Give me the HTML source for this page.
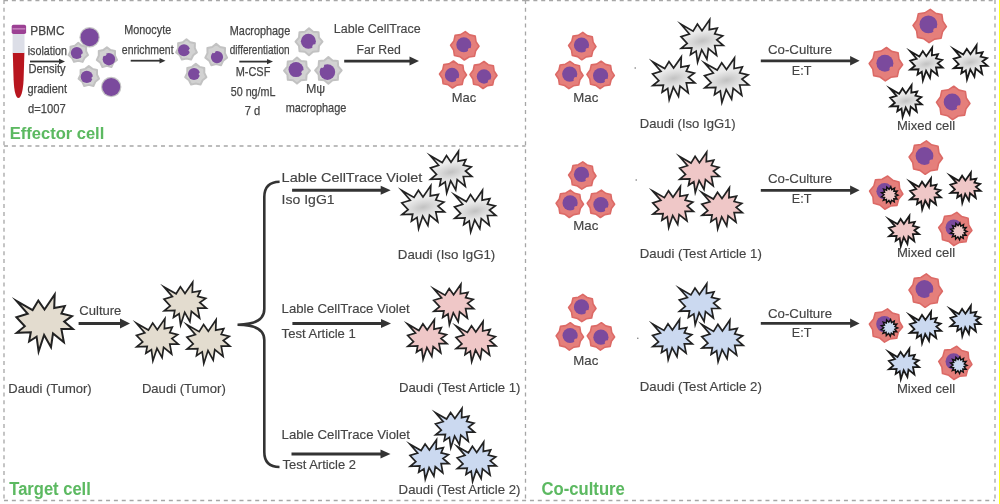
<!DOCTYPE html><html><head><meta charset="utf-8"><style>html,body{margin:0;padding:0;background:#fff;}svg{display:block;filter:blur(0.3px);}</style></head><body><svg width="1000" height="504" viewBox="0 0 1000 504" style="font-family:&quot;Liberation Sans&quot;,sans-serif" fill="#444">
<defs>
<radialGradient id="gg" cx="0.5" cy="0.5" r="0.5" gradientTransform="translate(0.5 0.5) rotate(-12) scale(1 0.45) translate(-0.5 -0.5)"><stop offset="0" stop-color="#c2c2c2"/><stop offset="0.5" stop-color="#d8d8d8"/><stop offset="1" stop-color="#ebebeb"/></radialGradient>
</defs>
<rect width="1000" height="504" fill="#fff"/>
<line x1="4" y1="0.5" x2="525.5" y2="0.5" stroke="#a6a6a6" stroke-width="1.3" stroke-dasharray="4 3.85"/>
<line x1="525.5" y1="0.5" x2="995" y2="0.5" stroke="#a6a6a6" stroke-width="1.3" stroke-dasharray="4 3.85"/>
<line x1="4" y1="0" x2="4" y2="500" stroke="#a6a6a6" stroke-width="1.3" stroke-dasharray="4 3.85"/>
<line x1="525.5" y1="0" x2="525.5" y2="500" stroke="#a6a6a6" stroke-width="1.3" stroke-dasharray="4 3.85"/>
<line x1="995" y1="0" x2="995" y2="500" stroke="#a6a6a6" stroke-width="1.3" stroke-dasharray="4 3.85"/>
<line x1="4" y1="146" x2="525.5" y2="146" stroke="#a6a6a6" stroke-width="1.3" stroke-dasharray="4 3.85"/>
<line x1="4" y1="500.5" x2="995" y2="500.5" stroke="#a6a6a6" stroke-width="1.3" stroke-dasharray="4 3.85"/>
<rect x="999" y="0" width="1" height="504" fill="#ffff20"/>
<path d="M12.8,52.8 L24.4,52.8 L23.6,80 Q22.5,97.8 18.4,98 Q14.5,97.8 13.6,80 Z" fill="#b8161f"/>
<rect x="12.6" y="33.8" width="11.9" height="19.2" fill="#dcdee7"/>
<rect x="11.7" y="24.8" width="14.4" height="9.2" rx="1.8" fill="#9c4194"/>
<rect x="12.5" y="28.2" width="12.8" height="1.3" fill="#c98ac2"/>
<text x="30.3" y="35.0" font-size="12.8" textLength="34.2" lengthAdjust="spacingAndGlyphs" stroke="#444" stroke-width="0.25">PBMC</text>
<text x="27.7" y="54.5" font-size="12.8" textLength="39.3" lengthAdjust="spacingAndGlyphs" stroke="#444" stroke-width="0.25">isolation</text>
<text x="28.6" y="73.3" font-size="12.8" textLength="37.0" lengthAdjust="spacingAndGlyphs" stroke="#444" stroke-width="0.25">Density</text>
<text x="27.4" y="93.3" font-size="12.8" textLength="39.6" lengthAdjust="spacingAndGlyphs" stroke="#444" stroke-width="0.25">gradient</text>
<text x="28.0" y="112.5" font-size="12.8" textLength="37.7" lengthAdjust="spacingAndGlyphs" stroke="#444" stroke-width="0.25">d=1007</text>
<line x1="30.0" y1="61.5" x2="60.0" y2="61.5" stroke="#333" stroke-width="1.8"/>
<polygon points="65.0,61.5 59.0,58.8 59.0,64.2" fill="#333"/>
<circle cx="89.6" cy="37.2" r="10.2" fill="#c4c4c4"/>
<circle cx="89.6" cy="37.2" r="9.0" fill="#7b4a9d"/>
<polygon points="78.3,42.9 81.8,45.7 86.1,46.7 86.1,51.1 88.0,55.1 84.6,57.9 82.6,61.9 78.3,60.9 74.0,61.9 72.0,57.9 68.6,55.1 70.5,51.1 70.5,46.7 74.8,45.7" fill="#d2d2d2" stroke="#c2c2c2" stroke-width="2" stroke-linejoin="round"/>
<circle cx="76.8" cy="53.0" r="6.0" fill="#7b4a9d"/>
<circle cx="82.7" cy="55.2" r="1.6" fill="#d2d2d2"/>
<polygon points="106.9,47.2 110.5,50.1 115.0,51.1 115.0,55.7 117.0,59.9 113.4,62.8 111.4,67.0 106.9,65.9 102.4,67.0 100.4,62.8 96.8,59.9 98.8,55.7 98.8,51.1 103.3,50.1" fill="#d2d2d2" stroke="#c2c2c2" stroke-width="2" stroke-linejoin="round"/>
<circle cx="108.9" cy="59.2" r="6.2" fill="#7b4a9d"/>
<circle cx="104.7" cy="54.2" r="1.7" fill="#d2d2d2"/>
<polygon points="88.8,66.0 92.4,68.9 97.0,70.0 97.0,74.6 99.0,78.8 95.4,81.7 93.4,86.0 88.8,84.9 84.2,86.0 82.2,81.7 78.6,78.8 80.6,74.6 80.6,70.0 85.2,68.9" fill="#d2d2d2" stroke="#c2c2c2" stroke-width="2" stroke-linejoin="round"/>
<circle cx="86.8" cy="76.9" r="6.1" fill="#7b4a9d"/>
<circle cx="93.1" cy="78.0" r="1.6" fill="#d2d2d2"/>
<circle cx="111.2" cy="87.0" r="10.2" fill="#c4c4c4"/>
<circle cx="111.2" cy="87.0" r="9.0" fill="#7b4a9d"/>
<text x="147.7" y="34.2" font-size="12.8" text-anchor="middle" textLength="46.9" lengthAdjust="spacingAndGlyphs" stroke="#444" stroke-width="0.25">Monocyte</text>
<text x="147.7" y="54.0" font-size="12.8" text-anchor="middle" textLength="51.7" lengthAdjust="spacingAndGlyphs" stroke="#444" stroke-width="0.25">enrichment</text>
<line x1="130.7" y1="60.7" x2="160.5" y2="60.7" stroke="#333" stroke-width="1.8"/>
<polygon points="165.5,60.7 159.5,58.0 159.5,63.5" fill="#333"/>
<polygon points="186.5,39.3 190.2,42.3 194.9,43.3 194.8,48.1 196.9,52.4 193.2,55.3 191.1,59.6 186.5,58.6 181.9,59.6 179.8,55.3 176.1,52.4 178.2,48.1 178.1,43.3 182.8,42.3" fill="#d2d2d2" stroke="#c2c2c2" stroke-width="2" stroke-linejoin="round"/>
<circle cx="184.0" cy="50.3" r="6.0" fill="#7b4a9d"/>
<circle cx="190.3" cy="50.3" r="1.6" fill="#d2d2d2"/>
<polygon points="216.2,43.9 220.1,47.0 225.0,48.1 224.9,53.1 227.1,57.6 223.2,60.7 221.1,65.2 216.2,64.1 211.3,65.2 209.2,60.7 205.3,57.6 207.5,53.1 207.4,48.1 212.3,47.0" fill="#d2d2d2" stroke="#c2c2c2" stroke-width="2" stroke-linejoin="round"/>
<circle cx="217.0" cy="57.1" r="6.1" fill="#7b4a9d"/>
<circle cx="213.8" cy="51.6" r="1.6" fill="#d2d2d2"/>
<polygon points="195.8,63.9 199.6,66.9 204.3,68.0 204.3,72.9 206.4,77.2 202.6,80.2 200.5,84.6 195.8,83.5 191.1,84.6 189.0,80.2 185.2,77.2 187.3,72.9 187.3,68.0 192.0,66.9" fill="#d2d2d2" stroke="#c2c2c2" stroke-width="2" stroke-linejoin="round"/>
<circle cx="194.0" cy="74.0" r="6.0" fill="#7b4a9d"/>
<circle cx="200.3" cy="74.0" r="1.6" fill="#d2d2d2"/>
<text x="260.0" y="35.0" font-size="12.8" text-anchor="middle" textLength="60.4" lengthAdjust="spacingAndGlyphs" stroke="#444" stroke-width="0.25">Macrophage</text>
<text x="259.7" y="53.8" font-size="12.8" text-anchor="middle" textLength="59.8" lengthAdjust="spacingAndGlyphs" stroke="#444" stroke-width="0.25">differentiation</text>
<line x1="239.3" y1="61.6" x2="268.0" y2="61.6" stroke="#333" stroke-width="1.8"/>
<polygon points="273.0,61.6 267.0,58.9 267.0,64.3" fill="#333"/>
<text x="253.0" y="75.9" font-size="12.8" text-anchor="middle" textLength="34.7" lengthAdjust="spacingAndGlyphs" stroke="#444" stroke-width="0.25">M-CSF</text>
<text x="253.1" y="95.8" font-size="12.8" text-anchor="middle" textLength="44.7" lengthAdjust="spacingAndGlyphs" stroke="#444" stroke-width="0.25">50 ng/mL</text>
<text x="252.5" y="115.4" font-size="12.8" text-anchor="middle" textLength="15.5" lengthAdjust="spacingAndGlyphs" stroke="#444" stroke-width="0.25">7 d</text>
<polygon points="309.0,28.2 313.1,31.7 318.5,32.2 319.0,37.6 322.5,41.7 319.0,45.8 318.5,51.2 313.1,51.7 309.0,55.2 304.9,51.7 299.5,51.2 299.0,45.8 295.5,41.7 299.0,37.6 299.5,32.2 304.9,31.7" fill="#d2d2d2" stroke="#c2c2c2" stroke-width="2" stroke-linejoin="round"/>
<circle cx="308.4" cy="41.2" r="7.5" fill="#7b4a9d"/>
<circle cx="314.4" cy="46.3" r="2.0" fill="#d2d2d2"/>
<polygon points="297.0,57.6 301.0,61.0 306.2,61.4 306.6,66.6 310.0,70.6 306.6,74.6 306.2,79.8 301.0,80.2 297.0,83.6 293.0,80.2 287.8,79.8 287.4,74.6 284.0,70.6 287.4,66.6 287.8,61.4 293.0,61.0" fill="#d2d2d2" stroke="#c2c2c2" stroke-width="2" stroke-linejoin="round"/>
<circle cx="296.0" cy="69.6" r="7.5" fill="#7b4a9d"/>
<circle cx="303.4" cy="72.3" r="2.0" fill="#d2d2d2"/>
<polygon points="328.4,57.1 332.5,60.6 337.8,61.0 338.2,66.3 341.7,70.4 338.2,74.5 337.8,79.8 332.5,80.2 328.4,83.7 324.3,80.2 319.0,79.8 318.6,74.5 315.1,70.4 318.6,66.3 319.0,61.0 324.3,60.6" fill="#d2d2d2" stroke="#c2c2c2" stroke-width="2" stroke-linejoin="round"/>
<circle cx="327.4" cy="72.1" r="7.8" fill="#7b4a9d"/>
<circle cx="322.1" cy="65.8" r="2.1" fill="#d2d2d2"/>
<text x="315.6" y="92.5" font-size="12.5" text-anchor="middle" stroke="#444" stroke-width="0.15">Mψ</text>
<text x="316.0" y="112.0" font-size="12.8" text-anchor="middle" textLength="60.7" lengthAdjust="spacingAndGlyphs" stroke="#444" stroke-width="0.25">macrophage</text>
<text x="377.3" y="33.2" font-size="12.5" text-anchor="middle" textLength="86.9" lengthAdjust="spacingAndGlyphs" stroke="#444" stroke-width="0.15">Lable CellTrace</text>
<text x="378.7" y="54.4" font-size="12.5" text-anchor="middle" textLength="44.3" lengthAdjust="spacingAndGlyphs" stroke="#444" stroke-width="0.15">Far Red</text>
<line x1="344.2" y1="61.1" x2="410.5" y2="61.1" stroke="#333" stroke-width="2.8"/>
<polygon points="419.0,61.1 409.5,56.6 409.5,65.6" fill="#333"/>
<polygon points="465.3,31.6 469.7,34.9 475.2,36.1 476.0,41.6 479.0,46.3 475.7,50.7 474.5,56.2 469.0,57.0 464.3,60.0 459.9,56.7 454.4,55.5 453.6,50.0 450.6,45.3 453.9,40.9 455.1,35.4 460.6,34.6" fill="#e57f7b" stroke="#dc6a66" stroke-width="1.6" stroke-linejoin="round"/>
<circle cx="463.8" cy="44.8" r="7.5" fill="#7b4a9d"/>
<circle cx="469.8" cy="49.9" r="2.0" fill="#e57f7b"/>
<polygon points="453.5,61.0 457.7,64.2 462.9,65.3 463.6,70.5 466.5,75.0 463.3,79.2 462.2,84.4 457.0,85.1 452.5,88.0 448.3,84.8 443.1,83.7 442.4,78.5 439.5,74.0 442.7,69.8 443.8,64.6 449.0,63.9" fill="#e57f7b" stroke="#dc6a66" stroke-width="1.6" stroke-linejoin="round"/>
<circle cx="452.0" cy="75.0" r="7.2" fill="#7b4a9d"/>
<circle cx="457.8" cy="79.9" r="1.9" fill="#e57f7b"/>
<polygon points="484.0,61.5 488.2,64.7 493.4,65.8 494.1,71.0 497.0,75.5 493.8,79.7 492.7,84.9 487.5,85.6 483.0,88.5 478.8,85.3 473.6,84.2 472.9,79.0 470.0,74.5 473.2,70.3 474.3,65.1 479.5,64.4" fill="#e57f7b" stroke="#dc6a66" stroke-width="1.6" stroke-linejoin="round"/>
<circle cx="484.0" cy="76.5" r="7.2" fill="#7b4a9d"/>
<circle cx="489.8" cy="81.4" r="1.9" fill="#e57f7b"/>
<text x="463.9" y="101.6" font-size="13" text-anchor="middle" textLength="24.5" lengthAdjust="spacingAndGlyphs" stroke="#444" stroke-width="0.15">Mac</text>
<text x="9.8" y="139.0" font-size="17.4" textLength="94.5" lengthAdjust="spacingAndGlyphs" font-weight="bold" fill="#5cb961" stroke="#5cb961" stroke-width="0.05">Effector cell</text>
<polygon points="16.4,300.9 32.6,310.1 38.3,300.6 44.5,309.5 54.7,294.5 54.2,308.1 64.8,306.1 61.4,313.5 72.0,316.1 64.2,321.6 72.9,329.1 61.4,329.1 63.9,342.3 53.0,333.4 51.0,347.2 44.1,334.9 38.6,351.6 36.6,336.6 29.1,341.5 30.8,332.3 16.7,332.8 24.8,326.2 16.4,317.3 27.7,313.8" fill="#e3dccf" stroke="#222" stroke-width="2" stroke-linejoin="miter" stroke-miterlimit="10"/>
<text x="79.3" y="315.2" font-size="13" textLength="42.1" lengthAdjust="spacingAndGlyphs" stroke="#444" stroke-width="0.15">Culture</text>
<line x1="78.6" y1="323.6" x2="121.0" y2="323.6" stroke="#333" stroke-width="3"/>
<polygon points="130.0,323.6 120.0,318.6 120.0,328.6" fill="#333"/>
<text x="8.3" y="393.0" font-size="13" textLength="83.4" lengthAdjust="spacingAndGlyphs" stroke="#444" stroke-width="0.15">Daudi (Tumor)</text>
<polygon points="164.0,286.9 176.1,293.8 180.4,286.7 185.0,293.4 192.7,282.2 192.3,292.3 200.3,290.8 197.7,296.4 205.7,298.4 199.8,302.5 206.3,308.1 197.7,308.1 199.6,318.0 191.4,311.3 189.9,321.7 184.7,312.4 180.6,324.9 179.1,313.7 173.5,317.4 174.8,310.5 164.2,310.9 170.2,305.9 164.0,299.2 172.4,296.6" fill="#e3dccf" stroke="#222" stroke-width="1.7" stroke-linejoin="miter" stroke-miterlimit="10"/>
<polygon points="136.5,323.3 148.4,330.1 152.7,323.1 157.3,329.7 164.9,318.6 164.4,328.6 172.3,327.1 169.8,332.7 177.6,334.6 171.9,338.6 178.3,344.2 169.8,344.2 171.7,354.0 163.6,347.4 162.1,357.6 157.0,348.4 152.9,360.8 151.4,349.7 145.9,353.3 147.2,346.5 136.7,346.9 142.7,342.0 136.5,335.4 144.8,332.9" fill="#e3dccf" stroke="#222" stroke-width="1.7" stroke-linejoin="miter" stroke-miterlimit="10"/>
<polygon points="186.9,324.7 199.2,331.7 203.6,324.5 208.3,331.3 216.1,319.8 215.7,330.2 223.8,328.6 221.2,334.3 229.3,336.3 223.3,340.5 229.9,346.2 221.2,346.2 223.1,356.3 214.8,349.5 213.2,360.1 208.0,350.6 203.8,363.4 202.2,351.9 196.5,355.7 197.8,348.6 187.1,349.1 193.2,344.0 186.9,337.2 195.4,334.6" fill="#e3dccf" stroke="#222" stroke-width="1.7" stroke-linejoin="miter" stroke-miterlimit="10"/>
<text x="141.9" y="392.6" font-size="13" textLength="83.9" lengthAdjust="spacingAndGlyphs" stroke="#444" stroke-width="0.15">Daudi (Tumor)</text>
<path d="M279.6,181.7 Q264.3,182 264.3,197 L264.3,309 Q264.3,324.7 237.5,324.7 Q264.3,324.7 264.3,340 L264.3,452 Q264.3,467 279.5,467" fill="none" stroke="#333" stroke-width="2.6"/>
<text x="281.6" y="182.1" font-size="13" textLength="140.6" lengthAdjust="spacingAndGlyphs" stroke="#444" stroke-width="0.15">Lable CellTrace Violet</text>
<text x="281.6" y="204.4" font-size="13" textLength="53.0" lengthAdjust="spacingAndGlyphs" stroke="#444" stroke-width="0.15">Iso IgG1</text>
<line x1="292.1" y1="190.3" x2="381.7" y2="190.3" stroke="#333" stroke-width="3"/>
<polygon points="390.7,190.3 380.7,185.8 380.7,194.8" fill="#333"/>
<polygon points="430.4,155.8 442.2,162.6 446.5,155.6 451.0,162.2 458.5,151.2 458.1,161.1 465.9,159.6 463.3,165.1 471.2,167.0 465.5,171.0 471.8,176.5 463.3,176.5 465.3,186.3 457.2,179.7 455.7,189.8 450.7,180.8 446.7,193.0 445.2,182.0 439.7,185.6 441.0,178.9 430.6,179.3 436.5,174.4 430.4,167.9 438.6,165.3" fill="url(#gg)" stroke="#222" stroke-width="1.7" stroke-linejoin="miter" stroke-miterlimit="10"/>
<polygon points="401.8,190.4 414.0,197.4 418.4,190.2 423.0,197.0 430.8,185.6 430.3,195.9 438.4,194.3 435.8,200.0 443.9,202.0 438.0,206.1 444.5,211.8 435.8,211.8 437.8,221.8 429.5,215.0 427.9,225.5 422.7,216.1 418.6,228.8 417.0,217.4 411.4,221.1 412.7,214.2 402.0,214.6 408.1,209.6 401.8,202.8 410.3,200.2" fill="url(#gg)" stroke="#222" stroke-width="1.7" stroke-linejoin="miter" stroke-miterlimit="10"/>
<polygon points="454.5,194.8 466.3,201.6 470.5,194.6 475.0,201.2 482.5,190.2 482.1,200.1 489.9,198.6 487.4,204.1 495.2,206.0 489.5,210.0 495.8,215.5 487.4,215.5 489.3,225.3 481.3,218.7 479.8,228.8 474.7,219.8 470.7,232.0 469.2,221.0 463.7,224.6 465.0,217.9 454.7,218.3 460.6,213.4 454.5,206.9 462.7,204.3" fill="url(#gg)" stroke="#222" stroke-width="1.7" stroke-linejoin="miter" stroke-miterlimit="10"/>
<text x="397.8" y="259.2" font-size="13" textLength="97.5" lengthAdjust="spacingAndGlyphs" stroke="#444" stroke-width="0.15">Daudi (Iso IgG1)</text>
<text x="281.6" y="313.2" font-size="13" textLength="128.2" lengthAdjust="spacingAndGlyphs" stroke="#444" stroke-width="0.15">Lable CellTrace Violet</text>
<text x="281.6" y="337.5" font-size="13" textLength="74.2" lengthAdjust="spacingAndGlyphs" stroke="#444" stroke-width="0.15">Test Article 1</text>
<line x1="292.4" y1="323.5" x2="382.0" y2="323.5" stroke="#333" stroke-width="3"/>
<polygon points="391.0,323.5 381.0,319.0 381.0,328.0" fill="#333"/>
<polygon points="433.7,288.7 445.1,295.2 449.2,288.5 453.6,294.8 460.9,284.2 460.4,293.8 468.0,292.3 465.6,297.7 473.1,299.5 467.6,303.4 473.7,308.7 465.6,308.7 467.4,318.1 459.6,311.8 458.2,321.6 453.3,312.8 449.4,324.6 448.0,314.0 442.7,317.5 443.9,310.9 433.9,311.4 439.6,306.6 433.7,300.3 441.6,297.9" fill="#efc7c7" stroke="#222" stroke-width="1.7" stroke-linejoin="miter" stroke-miterlimit="10"/>
<polygon points="407.7,324.1 418.9,330.5 422.9,323.9 427.2,330.1 434.4,319.6 434.0,329.1 441.4,327.7 439.0,332.9 446.4,334.7 441.0,338.5 447.0,343.7 439.0,343.7 440.8,352.9 433.2,346.7 431.8,356.4 426.9,347.7 423.1,359.4 421.7,348.9 416.5,352.3 417.7,345.9 407.9,346.3 413.5,341.7 407.7,335.5 415.5,333.1" fill="#efc7c7" stroke="#222" stroke-width="1.7" stroke-linejoin="miter" stroke-miterlimit="10"/>
<polygon points="456.0,325.9 467.4,332.4 471.5,325.7 475.8,332.0 483.1,321.4 482.7,331.0 490.2,329.5 487.8,334.8 495.3,336.7 489.8,340.5 495.9,345.8 487.8,345.8 489.6,355.2 481.9,348.9 480.4,358.6 475.5,349.9 471.7,361.7 470.3,351.1 465.0,354.6 466.2,348.1 456.2,348.5 461.9,343.8 456.0,337.5 463.9,335.0" fill="#efc7c7" stroke="#222" stroke-width="1.7" stroke-linejoin="miter" stroke-miterlimit="10"/>
<text x="399.0" y="391.5" font-size="13" textLength="121.5" lengthAdjust="spacingAndGlyphs" stroke="#444" stroke-width="0.15">Daudi (Test Article 1)</text>
<text x="281.6" y="439.1" font-size="13" textLength="128.4" lengthAdjust="spacingAndGlyphs" stroke="#444" stroke-width="0.15">Lable CellTrace Violet</text>
<text x="282.5" y="469.1" font-size="13" textLength="73.5" lengthAdjust="spacingAndGlyphs" stroke="#444" stroke-width="0.15">Test Article 2</text>
<line x1="291.5" y1="454.1" x2="381.5" y2="454.1" stroke="#333" stroke-width="3"/>
<polygon points="390.5,454.1 380.5,449.6 380.5,458.6" fill="#333"/>
<polygon points="435.5,412.7 446.6,419.0 450.6,412.5 454.9,418.6 462.0,408.3 461.6,417.6 468.9,416.2 466.6,421.4 473.9,423.2 468.5,427.0 474.5,432.2 466.6,432.2 468.3,441.3 460.8,435.2 459.4,444.7 454.6,436.2 450.8,447.7 449.4,437.4 444.2,440.7 445.4,434.4 435.7,434.8 441.3,430.2 435.5,424.0 443.2,421.6" fill="#cbd9f0" stroke="#222" stroke-width="1.7" stroke-linejoin="miter" stroke-miterlimit="10"/>
<polygon points="410.0,444.2 421.1,450.5 425.1,444.0 429.4,450.1 436.5,439.8 436.1,449.1 443.4,447.7 441.1,452.9 448.4,454.7 443.0,458.5 449.0,463.7 441.1,463.7 442.8,472.8 435.3,466.7 433.9,476.2 429.1,467.7 425.3,479.2 423.9,468.9 418.7,472.2 419.9,465.9 410.2,466.3 415.8,461.7 410.0,455.5 417.7,453.1" fill="#cbd9f0" stroke="#222" stroke-width="1.7" stroke-linejoin="miter" stroke-miterlimit="10"/>
<polygon points="457.2,446.4 468.4,452.8 472.4,446.2 476.7,452.4 483.7,442.0 483.3,451.4 490.7,450.0 488.3,455.2 495.7,457.0 490.3,460.8 496.3,465.9 488.3,465.9 490.1,475.1 482.5,468.9 481.1,478.5 476.4,469.9 472.6,481.5 471.2,471.1 466.0,474.5 467.2,468.1 457.4,468.5 463.0,463.9 457.2,457.8 465.0,455.4" fill="#cbd9f0" stroke="#222" stroke-width="1.7" stroke-linejoin="miter" stroke-miterlimit="10"/>
<text x="398.6" y="494.0" font-size="13" textLength="121.8" lengthAdjust="spacingAndGlyphs" stroke="#444" stroke-width="0.15">Daudi (Test Article 2)</text>
<text x="9.3" y="494.6" font-size="18" textLength="81.5" lengthAdjust="spacingAndGlyphs" font-weight="bold" fill="#5cb961" stroke="#5cb961" stroke-width="0.05">Target cell</text>
<polygon points="582.8,32.4 587.1,35.6 592.3,36.8 593.1,42.1 596.0,46.6 592.8,50.9 591.6,56.1 586.3,56.9 581.8,59.8 577.5,56.6 572.3,55.4 571.5,50.1 568.6,45.6 571.8,41.3 573.0,36.1 578.3,35.3" fill="#e57f7b" stroke="#dc6a66" stroke-width="1.6" stroke-linejoin="round"/>
<circle cx="581.5" cy="45.0" r="7.6" fill="#7b4a9d"/>
<circle cx="587.6" cy="50.1" r="2.1" fill="#e57f7b"/>
<polygon points="569.9,61.3 574.2,64.5 579.4,65.7 580.2,71.0 583.1,75.5 579.9,79.8 578.7,85.0 573.4,85.8 568.9,88.7 564.6,85.5 559.4,84.3 558.6,79.0 555.7,74.5 558.9,70.2 560.1,65.0 565.4,64.2" fill="#e57f7b" stroke="#dc6a66" stroke-width="1.6" stroke-linejoin="round"/>
<circle cx="569.7" cy="74.1" r="7.6" fill="#7b4a9d"/>
<circle cx="575.8" cy="79.2" r="2.1" fill="#e57f7b"/>
<polygon points="601.1,61.2 605.4,64.4 610.6,65.6 611.4,70.9 614.3,75.4 611.1,79.7 609.9,84.9 604.6,85.7 600.1,88.6 595.8,85.4 590.6,84.2 589.8,78.9 586.9,74.4 590.1,70.1 591.3,64.9 596.6,64.1" fill="#e57f7b" stroke="#dc6a66" stroke-width="1.6" stroke-linejoin="round"/>
<circle cx="600.6" cy="75.7" r="7.6" fill="#7b4a9d"/>
<circle cx="606.7" cy="80.8" r="2.1" fill="#e57f7b"/>
<text x="585.8" y="101.5" font-size="13" text-anchor="middle" textLength="25.0" lengthAdjust="spacingAndGlyphs" stroke="#444" stroke-width="0.15">Mac</text>
<circle cx="635.2" cy="68" r="0.8" fill="#777"/>
<polygon points="681.0,24.3 693.1,31.2 697.4,24.1 702.0,30.8 709.7,19.6 709.3,29.7 717.3,28.2 714.7,33.8 722.7,35.8 716.8,39.9 723.3,45.5 714.7,45.5 716.6,55.4 708.4,48.7 706.9,59.1 701.7,49.8 697.6,62.3 696.1,51.1 690.5,54.8 691.8,47.9 681.2,48.3 687.2,43.3 681.0,36.6 689.4,34.0" fill="url(#gg)" stroke="#222" stroke-width="1.7" stroke-linejoin="miter" stroke-miterlimit="10"/>
<polygon points="652.6,61.7 664.7,68.6 669.0,61.5 673.6,68.1 681.3,56.9 680.9,67.1 688.9,65.6 686.3,71.2 694.3,73.1 688.4,77.2 694.9,82.8 686.3,82.8 688.2,92.8 680.0,86.1 678.5,96.4 673.3,87.2 669.2,99.7 667.7,88.5 662.1,92.1 663.4,85.2 652.8,85.6 658.8,80.7 652.6,74.0 661.0,71.4" fill="url(#gg)" stroke="#222" stroke-width="1.7" stroke-linejoin="miter" stroke-miterlimit="10"/>
<polygon points="704.5,62.9 717.2,70.1 721.7,62.7 726.5,69.6 734.5,57.9 734.1,68.5 742.4,66.9 739.7,72.8 748.1,74.8 742.0,79.1 748.8,85.0 739.7,85.0 741.8,95.4 733.2,88.4 731.6,99.2 726.2,89.5 721.9,102.6 720.3,90.9 714.5,94.7 715.8,87.5 704.8,87.9 711.1,82.7 704.5,75.7 713.3,73.0" fill="url(#gg)" stroke="#222" stroke-width="1.7" stroke-linejoin="miter" stroke-miterlimit="10"/>
<text x="639.8" y="128.2" font-size="13" textLength="95.9" lengthAdjust="spacingAndGlyphs" stroke="#444" stroke-width="0.15">Daudi (Iso IgG1)</text>
<text x="800.0" y="53.9" font-size="13" text-anchor="middle" textLength="64.0" lengthAdjust="spacingAndGlyphs" stroke="#444" stroke-width="0.15">Co-Culture</text>
<line x1="760.8" y1="60.8" x2="851.1" y2="60.8" stroke="#333" stroke-width="2.7"/>
<polygon points="859.6,60.8 850.1,56.0 850.1,65.5" fill="#333"/>
<text x="801.6" y="74.5" font-size="13" text-anchor="middle" textLength="19.6" lengthAdjust="spacingAndGlyphs" stroke="#444" stroke-width="0.15">E:T</text>
<polygon points="930.3,9.3 935.5,13.2 941.9,14.6 942.8,21.1 946.4,26.6 942.5,31.8 941.1,38.2 934.6,39.1 929.1,42.7 923.9,38.8 917.5,37.4 916.6,30.9 913.0,25.4 916.9,20.2 918.3,13.8 924.8,12.9" fill="#e57f7b" stroke="#dc6a66" stroke-width="1.6" stroke-linejoin="round"/>
<circle cx="928.4" cy="24.4" r="8.9" fill="#7b4a9d"/>
<circle cx="935.6" cy="30.4" r="2.4" fill="#e57f7b"/>
<polygon points="886.5,47.5 891.7,51.4 898.1,52.8 899.0,59.3 902.6,64.8 898.7,70.0 897.3,76.4 890.8,77.3 885.3,80.9 880.1,77.0 873.7,75.6 872.8,69.1 869.2,63.6 873.1,58.4 874.5,52.0 881.0,51.1" fill="#e57f7b" stroke="#dc6a66" stroke-width="1.6" stroke-linejoin="round"/>
<circle cx="884.9" cy="63.2" r="8.5" fill="#7b4a9d"/>
<circle cx="891.7" cy="68.9" r="2.3" fill="#e57f7b"/>
<polygon points="953.8,86.2 959.0,90.1 965.4,91.5 966.3,98.0 969.9,103.5 966.0,108.7 964.6,115.1 958.1,116.0 952.6,119.6 947.4,115.7 941.0,114.3 940.1,107.8 936.5,102.3 940.4,97.1 941.8,90.7 948.3,89.8" fill="#e57f7b" stroke="#dc6a66" stroke-width="1.6" stroke-linejoin="round"/>
<circle cx="952.2" cy="101.9" r="8.5" fill="#7b4a9d"/>
<circle cx="959.0" cy="107.6" r="2.3" fill="#e57f7b"/>
<polygon points="910.2,51.2 919.4,56.5 922.8,51.1 926.3,56.2 932.2,47.6 931.9,55.4 938.0,54.2 936.0,58.5 942.1,60.0 937.7,63.2 942.6,67.5 936.0,67.5 937.5,75.1 931.2,70.0 930.0,77.9 926.1,70.8 922.9,80.4 921.8,71.8 917.5,74.6 918.5,69.3 910.3,69.6 915.0,65.8 910.2,60.7 916.6,58.7" fill="url(#gg)" stroke="#1a1a1a" stroke-width="1.8" stroke-linejoin="miter" stroke-miterlimit="10"/>
<polygon points="953.7,49.0 963.3,54.5 966.8,48.8 970.5,54.2 976.6,45.2 976.3,53.3 982.7,52.1 980.6,56.6 987.0,58.2 982.4,61.4 987.5,65.9 980.6,65.9 982.2,73.9 975.6,68.5 974.4,76.8 970.3,69.4 967.0,79.4 965.8,70.4 961.3,73.4 962.3,67.8 953.8,68.2 958.7,64.2 953.7,58.8 960.4,56.8" fill="url(#gg)" stroke="#1a1a1a" stroke-width="1.8" stroke-linejoin="miter" stroke-miterlimit="10"/>
<polygon points="890.2,88.6 899.2,93.7 902.5,88.4 905.9,93.4 911.6,85.0 911.3,92.6 917.3,91.5 915.4,95.7 921.3,97.1 917.0,100.2 921.8,104.4 915.4,104.4 916.8,111.8 910.7,106.8 909.5,114.5 905.7,107.6 902.6,117.0 901.5,108.6 897.3,111.3 898.3,106.2 890.4,106.5 894.9,102.8 890.2,97.8 896.5,95.8" fill="url(#gg)" stroke="#1a1a1a" stroke-width="1.8" stroke-linejoin="miter" stroke-miterlimit="10"/>
<text x="926.0" y="130.0" font-size="13" text-anchor="middle" textLength="58.1" lengthAdjust="spacingAndGlyphs" stroke="#444" stroke-width="0.15">Mixed cell</text>
<polygon points="582.8,161.8 587.1,165.0 592.3,166.2 593.1,171.5 596.0,176.0 592.8,180.3 591.6,185.5 586.3,186.3 581.8,189.2 577.5,186.0 572.3,184.8 571.5,179.5 568.6,175.0 571.8,170.7 573.0,165.5 578.3,164.7" fill="#e57f7b" stroke="#dc6a66" stroke-width="1.6" stroke-linejoin="round"/>
<circle cx="581.5" cy="174.4" r="7.6" fill="#7b4a9d"/>
<circle cx="587.6" cy="179.5" r="2.1" fill="#e57f7b"/>
<polygon points="570.3,190.1 574.6,193.3 579.8,194.5 580.6,199.8 583.5,204.3 580.3,208.6 579.1,213.8 573.8,214.6 569.3,217.5 565.0,214.3 559.8,213.1 559.0,207.8 556.1,203.3 559.3,199.0 560.5,193.8 565.8,193.0" fill="#e57f7b" stroke="#dc6a66" stroke-width="1.6" stroke-linejoin="round"/>
<circle cx="570.1" cy="202.9" r="7.6" fill="#7b4a9d"/>
<circle cx="576.2" cy="208.0" r="2.1" fill="#e57f7b"/>
<polygon points="601.4,190.1 605.7,193.3 610.9,194.5 611.7,199.8 614.6,204.3 611.4,208.6 610.2,213.8 604.9,214.6 600.4,217.5 596.1,214.3 590.9,213.1 590.1,207.8 587.2,203.3 590.4,199.0 591.6,193.8 596.9,193.0" fill="#e57f7b" stroke="#dc6a66" stroke-width="1.6" stroke-linejoin="round"/>
<circle cx="600.9" cy="204.6" r="7.6" fill="#7b4a9d"/>
<circle cx="607.0" cy="209.7" r="2.1" fill="#e57f7b"/>
<text x="585.8" y="230.3" font-size="13" text-anchor="middle" textLength="25.0" lengthAdjust="spacingAndGlyphs" stroke="#444" stroke-width="0.15">Mac</text>
<circle cx="636.2" cy="180" r="0.8" fill="#777"/>
<polygon points="679.6,156.5 691.0,163.1 695.1,156.3 699.4,162.7 706.7,152.1 706.3,161.6 713.8,160.2 711.4,165.5 718.9,167.4 713.4,171.2 719.5,176.5 711.4,176.5 713.2,185.9 705.5,179.6 704.0,189.4 699.1,180.6 695.3,192.4 693.8,181.8 688.5,185.3 689.8,178.8 679.8,179.2 685.5,174.5 679.6,168.2 687.5,165.7" fill="#efc7c7" stroke="#222" stroke-width="1.7" stroke-linejoin="miter" stroke-miterlimit="10"/>
<polygon points="652.8,191.1 664.4,197.7 668.5,190.9 673.0,197.3 680.4,186.5 679.9,196.3 687.6,194.8 685.1,200.2 692.8,202.1 687.2,206.0 693.4,211.4 685.1,211.4 687.0,220.9 679.1,214.5 677.7,224.5 672.7,215.6 668.7,227.6 667.3,216.8 661.9,220.3 663.1,213.7 653.0,214.1 658.8,209.3 652.8,202.9 660.9,200.4" fill="#efc7c7" stroke="#222" stroke-width="1.7" stroke-linejoin="miter" stroke-miterlimit="10"/>
<polygon points="701.8,192.4 713.4,199.0 717.5,192.2 722.0,198.6 729.4,187.8 728.9,197.6 736.6,196.1 734.1,201.5 741.8,203.4 736.2,207.3 742.4,212.7 734.1,212.7 736.0,222.2 728.1,215.8 726.7,225.8 721.7,216.9 717.7,228.9 716.3,218.1 710.9,221.6 712.1,215.0 702.0,215.4 707.8,210.6 701.8,204.2 709.9,201.7" fill="#efc7c7" stroke="#222" stroke-width="1.7" stroke-linejoin="miter" stroke-miterlimit="10"/>
<text x="639.8" y="258.2" font-size="13" textLength="122.0" lengthAdjust="spacingAndGlyphs" stroke="#444" stroke-width="0.15">Daudi (Test Article 1)</text>
<text x="800.0" y="182.6" font-size="13" text-anchor="middle" textLength="64.0" lengthAdjust="spacingAndGlyphs" stroke="#444" stroke-width="0.15">Co-Culture</text>
<line x1="760.8" y1="190.3" x2="851.1" y2="190.3" stroke="#333" stroke-width="2.7"/>
<polygon points="859.6,190.3 850.1,185.6 850.1,195.1" fill="#333"/>
<text x="801.6" y="203.2" font-size="13" text-anchor="middle" textLength="19.6" lengthAdjust="spacingAndGlyphs" stroke="#444" stroke-width="0.15">E:T</text>
<polygon points="926.4,140.9 931.6,144.8 938.0,146.2 938.9,152.7 942.5,158.2 938.6,163.4 937.2,169.8 930.7,170.7 925.2,174.3 920.0,170.4 913.6,169.0 912.7,162.5 909.1,157.0 913.0,151.8 914.4,145.4 920.9,144.5" fill="#e57f7b" stroke="#dc6a66" stroke-width="1.6" stroke-linejoin="round"/>
<circle cx="924.5" cy="156.0" r="8.9" fill="#7b4a9d"/>
<circle cx="931.7" cy="162.0" r="2.4" fill="#e57f7b"/>
<polygon points="887.7,176.0 892.7,180.2 899.0,181.9 899.6,188.4 902.9,194.1 898.7,199.1 897.0,205.4 890.5,206.0 884.8,209.2 879.8,205.0 873.5,203.3 872.9,196.8 869.6,191.1 873.8,186.1 875.5,179.8 882.0,179.2" fill="#e57f7b" stroke="#dc6a66" stroke-width="1.6" stroke-linejoin="round"/>
<circle cx="884.6" cy="191.2" r="8.2" fill="#7b4a9d"/>
<polygon points="890.8,186.6 891.7,189.7 894.6,188.1 893.9,191.3 897.2,191.1 895.1,193.7 898.0,195.1 895.1,196.3 897.0,198.9 893.8,198.7 894.3,201.9 891.5,200.2 890.5,203.3 888.9,200.4 886.5,202.7 886.4,199.4 883.3,200.4 884.6,197.4 881.5,196.8 884.1,194.8 881.5,192.7 884.7,192.2 883.5,189.2 886.6,190.2 886.8,187.0 889.1,189.3" fill="#efc7c7" stroke="#111" stroke-width="1.4" stroke-linejoin="miter"/>
<polygon points="956.8,212.4 961.8,216.6 968.1,218.3 968.7,224.8 971.9,230.5 967.7,235.5 966.0,241.8 959.5,242.4 953.8,245.6 948.8,241.4 942.5,239.7 941.9,233.2 938.7,227.5 942.9,222.5 944.6,216.2 951.1,215.6" fill="#e57f7b" stroke="#dc6a66" stroke-width="1.6" stroke-linejoin="round"/>
<circle cx="953.7" cy="227.6" r="8.2" fill="#7b4a9d"/>
<polygon points="959.9,223.0 960.8,226.1 963.6,224.5 963.0,227.7 966.2,227.5 964.2,230.1 967.1,231.5 964.1,232.7 966.1,235.3 962.8,235.1 963.3,238.3 960.6,236.6 959.6,239.7 957.9,236.8 955.6,239.1 955.4,235.8 952.3,236.8 953.7,233.8 950.5,233.2 953.1,231.2 950.6,229.1 953.8,228.6 952.5,225.6 955.6,226.6 955.9,223.4 958.1,225.7" fill="#efc7c7" stroke="#111" stroke-width="1.4" stroke-linejoin="miter"/>
<polygon points="910.1,181.9 918.9,186.9 922.0,181.7 925.4,186.6 931.0,178.4 930.7,185.8 936.5,184.7 934.6,188.8 940.5,190.2 936.2,193.2 940.9,197.3 934.6,197.3 936.0,204.5 930.1,199.7 929.0,207.2 925.2,200.5 922.2,209.6 921.1,201.4 917.0,204.1 917.9,199.0 910.2,199.4 914.6,195.7 910.1,190.9 916.2,189.0" fill="#efc7c7" stroke="#1a1a1a" stroke-width="1.8" stroke-linejoin="miter" stroke-miterlimit="10"/>
<polygon points="950.4,175.9 959.0,180.8 962.1,175.7 965.4,180.5 970.9,172.5 970.6,179.7 976.3,178.6 974.4,182.6 980.1,184.0 975.9,186.9 980.6,190.9 974.4,190.9 975.8,198.0 970.0,193.2 968.9,200.6 965.2,194.0 962.3,202.9 961.2,194.9 957.2,197.5 958.1,192.6 950.6,192.9 954.9,189.4 950.4,184.6 956.4,182.8" fill="#efc7c7" stroke="#1a1a1a" stroke-width="1.8" stroke-linejoin="miter" stroke-miterlimit="10"/>
<polygon points="888.9,219.2 897.5,224.1 900.6,219.0 903.9,223.8 909.4,215.8 909.1,223.0 914.8,221.9 912.9,225.9 918.6,227.3 914.4,230.2 919.1,234.2 912.9,234.2 914.3,241.3 908.5,236.5 907.4,243.9 903.7,237.3 900.8,246.2 899.7,238.2 895.7,240.8 896.6,235.9 889.1,236.2 893.4,232.7 888.9,227.9 894.9,226.1" fill="#efc7c7" stroke="#1a1a1a" stroke-width="1.8" stroke-linejoin="miter" stroke-miterlimit="10"/>
<text x="926.0" y="257.4" font-size="13" text-anchor="middle" textLength="58.1" lengthAdjust="spacingAndGlyphs" stroke="#444" stroke-width="0.15">Mixed cell</text>
<polygon points="582.8,294.3 587.1,297.5 592.3,298.7 593.1,304.0 596.0,308.5 592.8,312.8 591.6,318.0 586.3,318.8 581.8,321.7 577.5,318.5 572.3,317.3 571.5,312.0 568.6,307.5 571.8,303.2 573.0,298.0 578.3,297.2" fill="#e57f7b" stroke="#dc6a66" stroke-width="1.6" stroke-linejoin="round"/>
<circle cx="581.5" cy="306.9" r="7.6" fill="#7b4a9d"/>
<circle cx="587.6" cy="312.0" r="2.1" fill="#e57f7b"/>
<polygon points="570.3,322.7 574.6,325.9 579.8,327.1 580.6,332.4 583.5,336.9 580.3,341.2 579.1,346.4 573.8,347.2 569.3,350.1 565.0,346.9 559.8,345.7 559.0,340.4 556.1,335.9 559.3,331.6 560.5,326.4 565.8,325.6" fill="#e57f7b" stroke="#dc6a66" stroke-width="1.6" stroke-linejoin="round"/>
<circle cx="570.1" cy="335.5" r="7.6" fill="#7b4a9d"/>
<circle cx="576.2" cy="340.6" r="2.1" fill="#e57f7b"/>
<polygon points="601.4,322.7 605.7,325.9 610.9,327.1 611.7,332.4 614.6,336.9 611.4,341.2 610.2,346.4 604.9,347.2 600.4,350.1 596.1,346.9 590.9,345.7 590.1,340.4 587.2,335.9 590.4,331.6 591.6,326.4 596.9,325.6" fill="#e57f7b" stroke="#dc6a66" stroke-width="1.6" stroke-linejoin="round"/>
<circle cx="600.9" cy="337.2" r="7.6" fill="#7b4a9d"/>
<circle cx="607.0" cy="342.3" r="2.1" fill="#e57f7b"/>
<text x="585.8" y="365.4" font-size="13" text-anchor="middle" textLength="25.0" lengthAdjust="spacingAndGlyphs" stroke="#444" stroke-width="0.15">Mac</text>
<circle cx="637.8" cy="338.3" r="0.8" fill="#777"/>
<polygon points="679.3,288.3 690.9,294.9 695.0,288.1 699.4,294.4 706.8,283.7 706.4,293.4 714.0,292.0 711.5,297.3 719.2,299.2 713.6,303.1 719.8,308.5 711.5,308.5 713.4,318.0 705.5,311.6 704.1,321.5 699.1,312.6 695.2,324.6 693.8,313.9 688.4,317.4 689.6,310.8 679.5,311.2 685.3,306.4 679.3,300.0 687.4,297.5" fill="#cbd9f0" stroke="#222" stroke-width="1.7" stroke-linejoin="miter" stroke-miterlimit="10"/>
<polygon points="652.6,323.9 664.0,330.4 668.0,323.7 672.4,330.0 679.6,319.5 679.2,329.0 686.7,327.6 684.3,332.9 691.8,334.7 686.3,338.6 692.4,343.9 684.3,343.9 686.1,353.2 678.4,346.9 677.0,356.7 672.1,347.9 668.2,359.7 666.8,349.2 661.5,352.6 662.7,346.1 652.8,346.5 658.5,341.8 652.6,335.5 660.5,333.1" fill="#cbd9f0" stroke="#222" stroke-width="1.7" stroke-linejoin="miter" stroke-miterlimit="10"/>
<polygon points="701.8,324.6 713.6,331.4 717.9,324.4 722.4,331.0 729.9,320.0 729.5,329.9 737.3,328.4 734.7,333.9 742.6,335.8 736.9,339.8 743.2,345.3 734.7,345.3 736.7,355.1 728.6,348.5 727.1,358.6 722.1,349.6 718.1,361.8 716.6,350.8 711.1,354.4 712.4,347.7 702.0,348.1 707.9,343.2 701.8,336.7 710.0,334.1" fill="#cbd9f0" stroke="#222" stroke-width="1.7" stroke-linejoin="miter" stroke-miterlimit="10"/>
<text x="639.8" y="390.8" font-size="13" textLength="122.0" lengthAdjust="spacingAndGlyphs" stroke="#444" stroke-width="0.15">Daudi (Test Article 2)</text>
<text x="800.0" y="317.7" font-size="13" text-anchor="middle" textLength="64.0" lengthAdjust="spacingAndGlyphs" stroke="#444" stroke-width="0.15">Co-Culture</text>
<line x1="760.8" y1="323.4" x2="851.1" y2="323.4" stroke="#333" stroke-width="2.7"/>
<polygon points="859.6,323.4 850.1,318.6 850.1,328.1" fill="#333"/>
<text x="801.6" y="336.6" font-size="13" text-anchor="middle" textLength="19.6" lengthAdjust="spacingAndGlyphs" stroke="#444" stroke-width="0.15">E:T</text>
<polygon points="926.3,273.9 931.5,277.8 937.9,279.2 938.8,285.7 942.4,291.2 938.5,296.4 937.1,302.8 930.6,303.7 925.1,307.3 919.9,303.4 913.5,302.0 912.6,295.5 909.0,290.0 912.9,284.8 914.3,278.4 920.8,277.5" fill="#e57f7b" stroke="#dc6a66" stroke-width="1.6" stroke-linejoin="round"/>
<circle cx="924.4" cy="289.0" r="8.9" fill="#7b4a9d"/>
<circle cx="931.6" cy="295.0" r="2.4" fill="#e57f7b"/>
<polygon points="887.5,308.9 892.5,313.1 898.8,314.8 899.4,321.3 902.6,327.0 898.4,332.0 896.7,338.3 890.2,338.9 884.5,342.1 879.5,337.9 873.2,336.2 872.6,329.7 869.4,324.0 873.6,319.0 875.3,312.7 881.8,312.1" fill="#e57f7b" stroke="#dc6a66" stroke-width="1.6" stroke-linejoin="round"/>
<circle cx="884.4" cy="324.1" r="8.2" fill="#7b4a9d"/>
<polygon points="890.6,319.5 891.5,322.6 894.3,321.0 893.7,324.2 896.9,324.0 894.9,326.6 897.8,328.0 894.8,329.2 896.8,331.8 893.5,331.6 894.0,334.8 891.3,333.1 890.3,336.2 888.6,333.3 886.3,335.6 886.1,332.3 883.0,333.3 884.4,330.3 881.2,329.7 883.8,327.7 881.3,325.6 884.5,325.1 883.2,322.1 886.3,323.1 886.6,319.9 888.8,322.2" fill="#cbd9f0" stroke="#111" stroke-width="1.4" stroke-linejoin="miter"/>
<polygon points="956.8,346.3 961.8,350.5 968.1,352.2 968.7,358.7 971.9,364.4 967.7,369.4 966.0,375.7 959.5,376.3 953.8,379.5 948.8,375.3 942.5,373.6 941.9,367.1 938.7,361.4 942.9,356.4 944.6,350.1 951.1,349.5" fill="#e57f7b" stroke="#dc6a66" stroke-width="1.6" stroke-linejoin="round"/>
<circle cx="953.7" cy="361.5" r="8.2" fill="#7b4a9d"/>
<polygon points="959.9,356.9 960.8,360.0 963.6,358.4 963.0,361.6 966.2,361.4 964.2,364.0 967.1,365.4 964.1,366.6 966.1,369.2 962.8,369.0 963.3,372.2 960.6,370.5 959.6,373.6 957.9,370.7 955.6,373.0 955.4,369.7 952.3,370.7 953.7,367.7 950.5,367.1 953.1,365.1 950.6,363.0 953.8,362.5 952.5,359.5 955.6,360.5 955.9,357.3 958.1,359.6" fill="#cbd9f0" stroke="#111" stroke-width="1.4" stroke-linejoin="miter"/>
<polygon points="909.8,315.1 918.8,320.2 922.0,314.9 925.4,319.9 931.1,311.5 930.8,319.1 936.7,317.9 934.8,322.1 940.7,323.6 936.4,326.6 941.2,330.8 934.8,330.8 936.2,338.1 930.1,333.2 929.0,340.9 925.2,334.0 922.1,343.3 921.0,334.9 916.8,337.7 917.8,332.5 909.9,332.9 914.4,329.2 909.8,324.2 916.0,322.3" fill="#cbd9f0" stroke="#1a1a1a" stroke-width="1.8" stroke-linejoin="miter" stroke-miterlimit="10"/>
<polygon points="950.4,309.1 959.0,314.0 962.1,308.9 965.4,313.7 970.9,305.7 970.6,313.0 976.3,311.9 974.5,315.9 980.2,317.3 976.0,320.2 980.6,324.2 974.5,324.2 975.9,331.4 970.0,326.6 968.9,334.0 965.2,327.3 962.3,336.3 961.2,328.3 957.2,330.9 958.1,325.9 950.5,326.3 954.8,322.7 950.4,317.9 956.4,316.1" fill="#cbd9f0" stroke="#1a1a1a" stroke-width="1.8" stroke-linejoin="miter" stroke-miterlimit="10"/>
<polygon points="888.9,352.1 897.5,357.0 900.6,351.9 903.9,356.7 909.4,348.7 909.1,356.0 914.8,354.9 913.0,358.9 918.7,360.3 914.5,363.2 919.1,367.2 913.0,367.2 914.4,374.4 908.5,369.6 907.4,377.0 903.7,370.3 900.8,379.3 899.7,371.3 895.7,373.9 896.6,368.9 889.0,369.3 893.3,365.7 888.9,360.9 894.9,359.1" fill="#cbd9f0" stroke="#1a1a1a" stroke-width="1.8" stroke-linejoin="miter" stroke-miterlimit="10"/>
<text x="926.0" y="392.5" font-size="13" text-anchor="middle" textLength="58.1" lengthAdjust="spacingAndGlyphs" stroke="#444" stroke-width="0.15">Mixed cell</text>
<text x="541.6" y="495.2" font-size="17.6" textLength="83.2" lengthAdjust="spacingAndGlyphs" font-weight="bold" fill="#5cb961" stroke="#5cb961" stroke-width="0.05">Co-culture</text>
</svg></body></html>
